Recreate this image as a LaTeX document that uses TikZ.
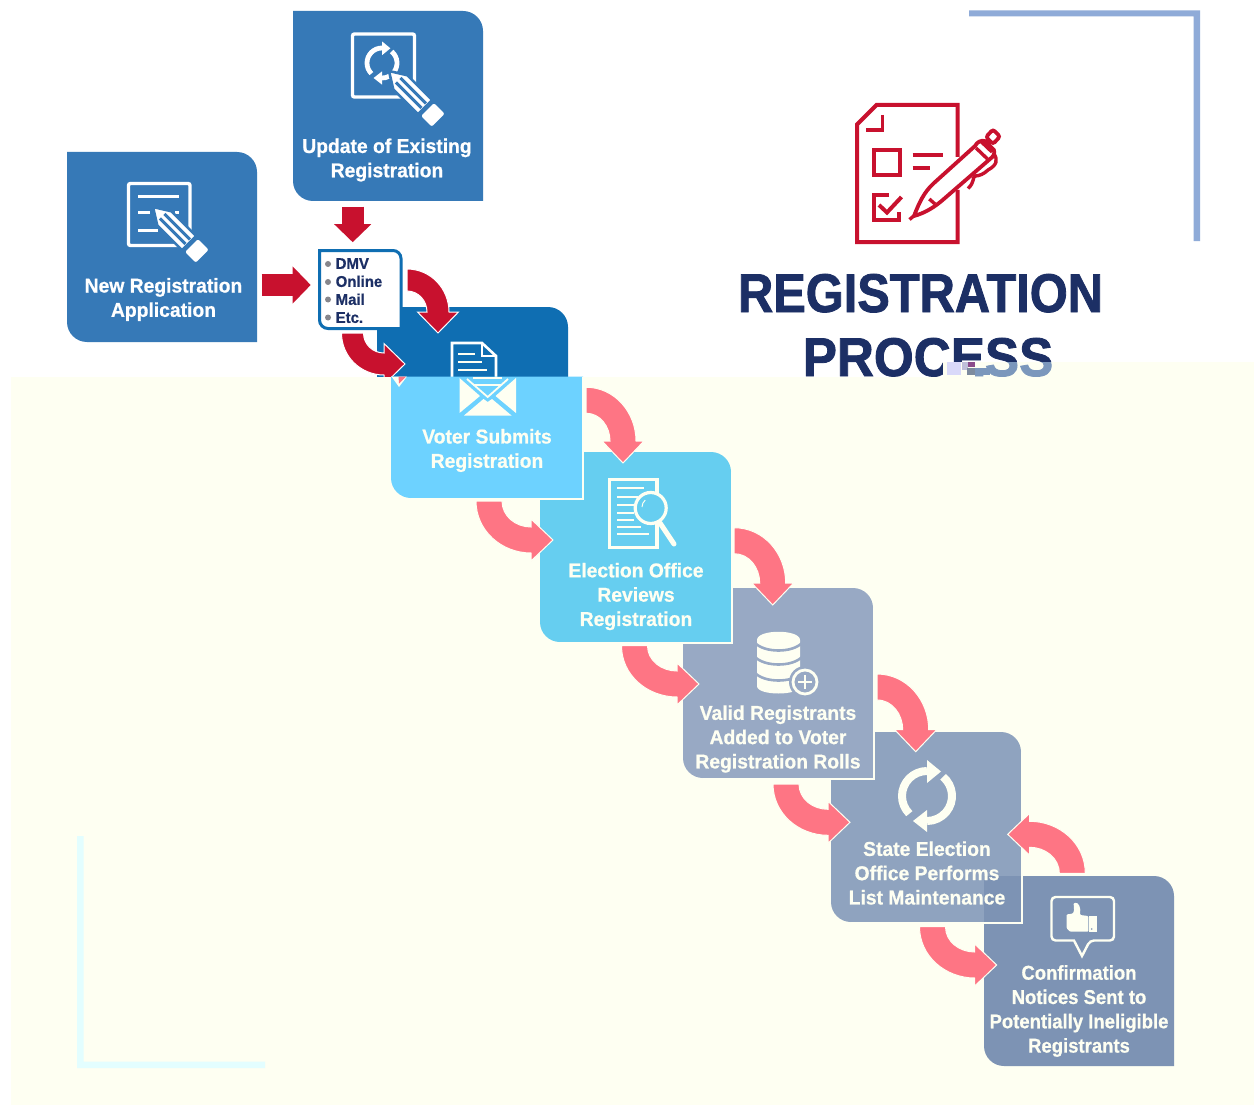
\documentclass[tikz,border=0pt]{standalone}
\usepackage{fontspec}
\usetikzlibrary{calc,arrows.meta}
\setmainfont{Liberation Sans}
\newfontface\titlef[FakeStretch=0.895,FakeBold=1.5]{Liberation Sans Bold}
\newfontface\titleg[FakeStretch=0.94,FakeBold=1.5]{Liberation Sans Bold}
\newfontface\boxf[FakeStretch=0.965,FakeBold=0.7]{Liberation Sans Bold}
\newfontface\boxn[FakeStretch=0.925,FakeBold=0.7]{Liberation Sans Bold}
\definecolor{creambg}{HTML}{FEFFF2}
\definecolor{navy}{HTML}{1C2F65}
\definecolor{blueA}{HTML}{3679B7}
\definecolor{blueD}{HTML}{0F6EB2}
\definecolor{voterc}{HTML}{6DD2FF}
\definecolor{electc}{HTML}{66CEF0}
\definecolor{validc}{HTML}{98A9C4}
\definecolor{statec}{HTML}{8FA3BF}
\definecolor{confc}{HTML}{7D93B4}
\definecolor{redc}{HTML}{C8112E}
\definecolor{pinkc}{HTML}{FE7584}
\definecolor{brkA}{HTML}{8FABD8}
\definecolor{brkB}{HTML}{E3FEFF}
\definecolor{muted}{HTML}{7B97BC}
\definecolor{bulletc}{HTML}{86868C}
\tikzset{
  redline/.style={redc,line width=22pt,-{Triangle[length=18pt,width=36pt]}},
  redbend/.style={fill=redc,draw=white,line width=1pt},
  pinkbend/.style={fill=pinkc,draw=creambg,line width=1pt},
  boxref/.style={inner sep=0pt,outer sep=0pt,draw=none,fill=none},
  boxlab/.style={align=center,inner sep=0pt,font=\boxf\fontsize{20}{24.3}\selectfont},
  redicon/.style={draw=redc,line width=4pt,fill=none},
}
% box with square top-left and bottom-right corners
\newcommand\procbox[6]{%
  \fill[#6] (#2,-#3) -- ({#4-20},-#3) arc[start angle=90,end angle=0,radius=20] -- (#4,-#5)
     -- ({#2+20},-#5) arc[start angle=270,end angle=180,radius=20] -- cycle;
  \node[boxref,minimum width={(#4-#2)*1pt},minimum height={(#5-#3)*1pt}] (#1) at ({(#2+#4)/2},{-(#3+#5)/2}) {};}
\newcommand\boxedge[4]{% x1 y1 x2 y2: light edge on the right and bottom
  \draw[creambg,line width=2.4pt] ({#3+1},-#2) -- ({#3+1},{-#4-1.2}) -- (#1,{-#4-1.2});}
\newcommand\bendES[3]{\path[#3] let \p1=(#1),\p2=(#2) in
  (\x1,\y1+\hw) to[out=0,in=90] (\x2+\hw,\y2+\hh) -- (\x2+\hH,\y2+\hh) -- (\x2,\y2)
  -- (\x2-\hH,\y2+\hh) -- (\x2-\hw,\y2+\hh) to[out=90,in=0] (\x1,\y1-\hw) -- cycle;}
\newcommand\bendSE[3]{\path[#3] let \p1=(#1),\p2=(#2) in
  (\x1-\hw,\y1) to[out=-90,in=180] (\x2-\hh,\y2-\hw) -- (\x2-\hh,\y2-\hH) -- (\x2,\y2)
  -- (\x2-\hh,\y2+\hH) -- (\x2-\hh,\y2+\hw) to[out=180,in=-90] (\x1+\hw,\y1) -- cycle;}
\newcommand\bendNW[3]{\path[#3] let \p1=(#1),\p2=(#2) in
  (\x1+\hw,\y1) to[out=90,in=0] (\x2+\hh,\y2+\hw) -- (\x2+\hh,\y2+\hH) -- (\x2,\y2)
  -- (\x2+\hh,\y2-\hH) -- (\x2+\hh,\y2-\hw) to[out=0,in=90] (\x1-\hw,\y1) -- cycle;}
% pencil: tip at (#1,#2) running down-right; #3 = colour of surroundings
\newcommand\penc[3]{\begin{scope}[shift={(#1,-#2)},rotate=-45]
  \draw[#3,line width=2.6pt,fill=white,line join=round] (0,0) -- (16,10) -- (51,10) -- (51,-10) -- (16,-10) -- cycle;
  \fill[#3] (13,-1.6) rectangle (49,-4.6); \fill[#3] (13,1.6) rectangle (49,4.6);
  \draw[#3,line width=2.6pt,fill=white,rounded corners=3pt] (53,10.5) -- (71,10.5) -- (71,-10.5) -- (53,-10.5) -- cycle;
  \end{scope}}
% two circling arrows
\newcommand\cyc[5]{\begin{scope}[shift={(#1,-#2)},scale=#3]
  \draw[#5,line width=#4] (225:25) arc[start angle=225,end angle=90,radius=25];
  \fill[#5] (0,36) -- (14,24.5) -- (0,13) -- cycle;
  \draw[#5,line width=#4] (50:25) arc[start angle=50,end angle=-90,radius=25];
  \fill[#5] (0,-36) -- (-14,-25) -- (0,-14) -- cycle;
  \end{scope}}
\begin{document}
\begin{tikzpicture}[x=1pt,y=1pt]
\useasboundingbox (0,0) rectangle (1254,-1105);
\fill[white] (0,0) rectangle (1254,-1105);

% torn upper part of the submit box
\fill[blueD] (377,-307) -- (548,-307) arc[start angle=90,end angle=0,radius=20] -- (568,-380) -- (377,-380) -- cycle;
\draw[white,line width=2.6pt,line join=miter] (452,-378) -- (452,-343) -- (482,-343) -- (496,-356) -- (496,-378);
\draw[white,line width=2.4pt] (482,-343) -- (482,-356) -- (496,-356);
\draw[creambg,line width=2pt] (458,-353.5) -- (475,-353.5) (458,-361.5) -- (482,-361.5) (458,-369.5) -- (487,-369.5);

% input boxes
\procbox{newreg}{67}{152}{257}{342}{blueA}
\procbox{update}{293}{11}{483}{201}{blueA}
\node[boxlab,text=white] (newregt) at (163.5,-299.5) {New Registration\\Application};
\node[boxlab,text=white] (updatet) at (387,-160) {Update of Existing\\Registration};

% update icon
\draw[white,line width=3.4pt,rounded corners=2pt] (352.5,-34) rectangle (414.5,-97);
\cyc{382}{63}{0.6}{4.8pt}{white}
\penc{389}{71}{blueA}
% new icon
\draw[white,line width=3.4pt,rounded corners=2pt] (128.5,-183.5) rectangle (190,-245.5);
\draw[white,line width=3pt] (138,-197) -- (179,-197) (138,-213) -- (150,-213) (175,-213) -- (179,-213) (138,-230) -- (158,-230);
\penc{153}{207}{blueA}

% DMV list
\draw[blueD,line width=3pt,fill=white] (319.5,-250.5) -- (393,-250.5) arc[start angle=90,end angle=0,radius=8] -- (401,-328.5)
   -- (328,-328.5) arc[start angle=270,end angle=180,radius=8.5] -- cycle;
\node[boxref,minimum width=84pt,minimum height=81pt] (dmv) at (360,-289.5) {};
\foreach \yy in {264,282,299.5,317.5} \fill[bulletc] (328,-\yy) circle[radius=3];
\node[anchor=north west,inner sep=0pt,align=left,text=navy,font=\boxf\fontsize{15.5}{18}\selectfont] (dmvt) at (335.5,-258) {DMV\\Online\\Mail\\Etc.};

% red connectors
\coordinate (r1a) at ([shift={(-35.3,-5.7)}]update.south);
\coordinate (r1b) at ([shift={(-7.3,6.8)}]dmv.north);
\draw[redline] (r1a) -- (r1b);
\coordinate (r2a) at ([shift={(4.7,-38)}]newreg.east);
\coordinate (r2b) at ([shift={(-7.3,4.5)}]dmv.west);
\draw[redline] (r2a) -- (r2b);
\coordinate (r3a) at ([shift={(5,9.5)}]dmv.east);
\coordinate (r3b) at (438,-333);
\def\hw{11pt}\def\hh{21pt}\def\hH{20.5pt}
\bendES{r3a}{r3b}{redbend}
\coordinate (r4a) at ([shift={(-7.5,-3)}]dmv.south);
\coordinate (r4b) at (405,-364);
\bendSE{r4a}{r4b}{redbend}

% title
\node[anchor=base,inner sep=0pt,text=navy,font=\titlef\fontsize{54.5}{60}\selectfont] (titleA) at (920.5,-312) {REGISTRATION};
\node[anchor=base,inner sep=0pt,text=navy,font=\titleg\fontsize{54.5}{60}\selectfont] (titleB) at (928,-376) {PROCESS};

% cream sheet
\fill[creambg] (11,-376.5) rectangle (1254,-1105);
\fill[creambg] (943,-362) rectangle (1254,-377);
\begin{scope}
  \clip (975,-362) rectangle (1060,-376);
  \node[anchor=base,inner sep=0pt,text=muted,font=\titleg\fontsize{54.5}{60}\selectfont] (titleC) at (928,-376) {PROCESS};
\end{scope}
\fill[muted] (975,-368) rectangle (990,-375);
\fill[black!15!blue!15!white] (947,-362) rectangle (961,-375);
\fill[black!60!blue!25!white] (962,-362) rectangle (968,-370);
\fill[violet!70!black!70!white] (968,-362) rectangle (975,-367);
\fill[muted!50!gray] (967,-368) rectangle (975,-375);

% corner brackets
\fill[brkA] (969,-10.5) -- (1200,-10.5) -- (1200,-241) -- (1193.5,-241) -- (1193.5,-16.5) -- (969,-16.5) -- cycle;
\fill[brkB] (77,-836) -- (83.5,-836) -- (83.5,-1061.5) -- (265,-1061.5) -- (265,-1068) -- (77,-1068) -- cycle;

% red document icon
\draw[redicon,line join=miter] (957.5,-157) -- (957.5,-105) -- (876.5,-105) -- (857,-124.5) -- (857,-242) -- (957.5,-242) -- (957.5,-190);
\draw[redicon,line width=3.6pt] (882.5,-115) -- (882.5,-130) -- (866,-130);
\draw[redicon] (873.5,-150) rectangle (900,-175);
\draw[redicon] (912.5,-155.5) -- (943,-155.5) (912.5,-168.5) -- (930,-168.5);
\draw[redicon] (889,-195) -- (873.5,-195) -- (873.5,-220) -- (899,-220) -- (899,-212);
\draw[redicon] (879,-205) -- (887,-212.5) -- (901.5,-197);
% pen
\draw[redc,line width=3.8pt,rounded corners=2.5pt,fill=white] (986,-137) -- (993,-129.5) -- (1000,-136.5) -- (993,-144) -- cycle;
\draw[redc,line width=3.8pt,line join=round,fill=white]
  (914,-216) .. controls (919,-203) and (924,-192) .. (934,-183) -- (975,-146) .. controls (977,-142) and (981,-140) .. (985,-141) -- (994,-150) .. controls (995,-154) and (993,-157) .. (990,-159) -- (945,-198) .. controls (935,-207) and (925,-213) .. (914,-216) -- cycle;
\draw[redc,line width=3.4pt] (976,-148) -- (987.5,-159) (981,-141.5) -- (992,-152)
   (929.3,-199) -- (935,-204) (909.5,-219.5) -- (915.5,-214.5);
\draw[redc,line width=3.4pt,line join=round] (994,-154) .. controls (998,-160) and (997,-165) .. (988,-170) .. controls (984,-174) and (979,-176) .. (975,-176) .. controls (972,-178) and (975,-182) .. (968,-188.5);

% step boxes, lowest in the pile first
\procbox{state}{831}{732}{1021}{922}{statec}
\procbox{confirm}{984}{876}{1174}{1066}{confc}
\boxedge{851}{752}{1021}{922}
\procbox{valid}{683}{588}{873}{778}{validc}
\boxedge{703}{608}{873}{778}
\procbox{election}{540}{452}{731}{642}{electc}
\boxedge{560}{472}{731}{642}
\fill[voterc] (391,-376.5) -- (583,-376.5) -- (583,-498) -- (411,-498) arc[start angle=270,end angle=180,radius=20] -- cycle;
\node[boxref,minimum width=192pt,minimum height=121.5pt] (voter) at (487,-437.25) {};
\boxedge{411}{376.5}{582}{498}

% remains of the torn arrowhead
\fill[creambg] (391.5,-376.5) -- (407,-376.5) -- (399,-387) -- cycle;
\fill[pinkc] (398.5,-376.5) -- (406,-376.5) -- (399,-383.5) -- cycle;

% envelope
\fill[creambg] (459.5,-378) -- (459.5,-413) -- (480,-396) -- cycle;
\fill[creambg] (516,-378) -- (516,-413) -- (495.5,-396) -- cycle;
\fill[creambg] (464,-415.5) -- (511.5,-415.5) -- (492,-399) -- (487.7,-402) -- (483.5,-399) -- cycle;
\draw[creambg,line width=1.8pt] (473,-378) -- (502,-378) (473,-385) -- (502,-385);
\draw[creambg,line width=1.8pt] (467,-379) -- (487.7,-397) -- (508,-379);

% review icon
\draw[creambg,line width=3.6pt,fill=electc] (609.5,-479.5) rectangle (657,-547.5);
\draw[creambg,line width=2pt] (617,-488) -- (644,-488) (617,-497) -- (638,-497) (617,-505) -- (634,-505)
  (617,-513) -- (634,-513) (617,-520) -- (634,-520) (617,-527) -- (641,-527) (617,-534) -- (649,-534);
\draw[creambg,line width=5pt,line cap=round] (660,-523) -- (674,-544);
\draw[creambg,line width=3.2pt,fill=electc] (650.7,-508) circle[radius=15.5];
\draw[creambg,line width=1pt] (642,-507) arc[start angle=180,end angle=130,radius=9];

% database icon
\fill[creambg] (757,-640) -- (757,-686) .. controls (757,-696) and (800,-696) .. (800,-686) -- (800,-640) .. controls (800,-629) and (757,-629) .. (757,-640) -- cycle;
\foreach \yy in {643,657,673} \draw[validc,line width=2.6pt] (755,-\yy) .. controls (765,{-\yy-10}) and (792,{-\yy-10}) .. (802,-\yy);
\fill[validc] (805,-682) circle[radius=16];
\draw[creambg,line width=2.8pt] (805,-682) circle[radius=12];
\draw[creambg,line width=2pt] (798,-682) -- (812,-682) (805,-675) -- (805,-689);

% maintenance icon
\cyc{927}{796}{1}{8pt}{creambg}

% confirmation icon
\draw[creambg,line width=2.4pt,rounded corners=4pt,fill=none]
   (1051.5,-897) -- (1114,-897) -- (1114,-940.5) -- (1090,-940.5) [sharp corners] -- (1082,-956) -- (1074,-940.5) [rounded corners=4pt] -- (1051.5,-940.5) -- cycle;
\fill[creambg,rounded corners=1pt] (1066.5,-914.5) -- (1073,-913.5) .. controls (1075,-909) and (1073,-906) .. (1074,-903) .. controls (1079,-902) and (1081,-908) .. (1080,-915) -- (1088.3,-916) -- (1088.3,-931.7) -- (1070,-931.7) -- (1066.5,-928) -- cycle;
\fill[creambg] (1089.2,-916) rectangle (1097,-931.7);
\fill[confc] (1091.7,-929) circle[radius=0.9];

% labels
\node[boxlab,text=creambg] (votert) at (487,-450.5) {Voter Submits\\Registration};
\node[boxlab,text=creambg] (electiont) at (636,-596.5) {Election Office\\Reviews\\Registration};
\node[boxlab,text=creambg] (validt) at (778,-739) {Valid Registrants\\Added to Voter\\Registration Rolls};
\node[boxlab,text=creambg] (statet) at (927,-873) {State Election\\Office Performs\\List Maintenance};
\node[boxlab,text=creambg,font=\boxn\fontsize{20}{24.3}\selectfont] (confirmt) at (1079,-1011) {Confirmation\\Notices Sent to\\Potentially Ineligible\\Registrants};

% pink connectors
\def\hw{13pt}\def\hh{22pt}\def\hH{21pt}
\coordinate (p1a) at ([shift={(3,37)}]voter.east);
\coordinate (p1b) at ([shift={(-12.5,-11)}]election.north);
\bendES{p1a}{p1b}{pinkbend}
\coordinate (p2a) at ([shift={(2,-3)}]voter.south);
\coordinate (p2b) at ([shift={(13,7)}]election.west);
\bendSE{p2a}{p2b}{pinkbend}
\coordinate (p3a) at ([shift={(3,6.3)}]election.east);
\coordinate (p3b) at ([shift={(-5.3,-17)}]valid.north);
\bendES{p3a}{p3b}{pinkbend}
\coordinate (p4a) at ([shift={(-1,-3.7)}]election.south);
\coordinate (p4b) at ([shift={(16,-1)}]valid.west);
\bendSE{p4a}{p4b}{pinkbend}
\coordinate (p5a) at ([shift={(4,-4)}]valid.east);
\coordinate (p5b) at ([shift={(-10.3,-19.7)}]state.north);
\bendES{p5a}{p5b}{pinkbend}
\coordinate (p6a) at ([shift={(8,-6)}]valid.south);
\coordinate (p6b) at ([shift={(19,4.7)}]state.west);
\bendSE{p6a}{p6b}{pinkbend}
\coordinate (p7a) at ([shift={(6.5,-4.7)}]state.south);
\coordinate (p7b) at ([shift={(12.7,6)}]confirm.west);
\bendSE{p7a}{p7b}{pinkbend}
\coordinate (p8a) at ([shift={(-6.7,2.7)}]confirm.north);
\coordinate (p8b) at ([shift={(-13.3,-7.3)}]state.east);
\bendNW{p8a}{p8b}{pinkbend}
\end{tikzpicture}
\end{document}
